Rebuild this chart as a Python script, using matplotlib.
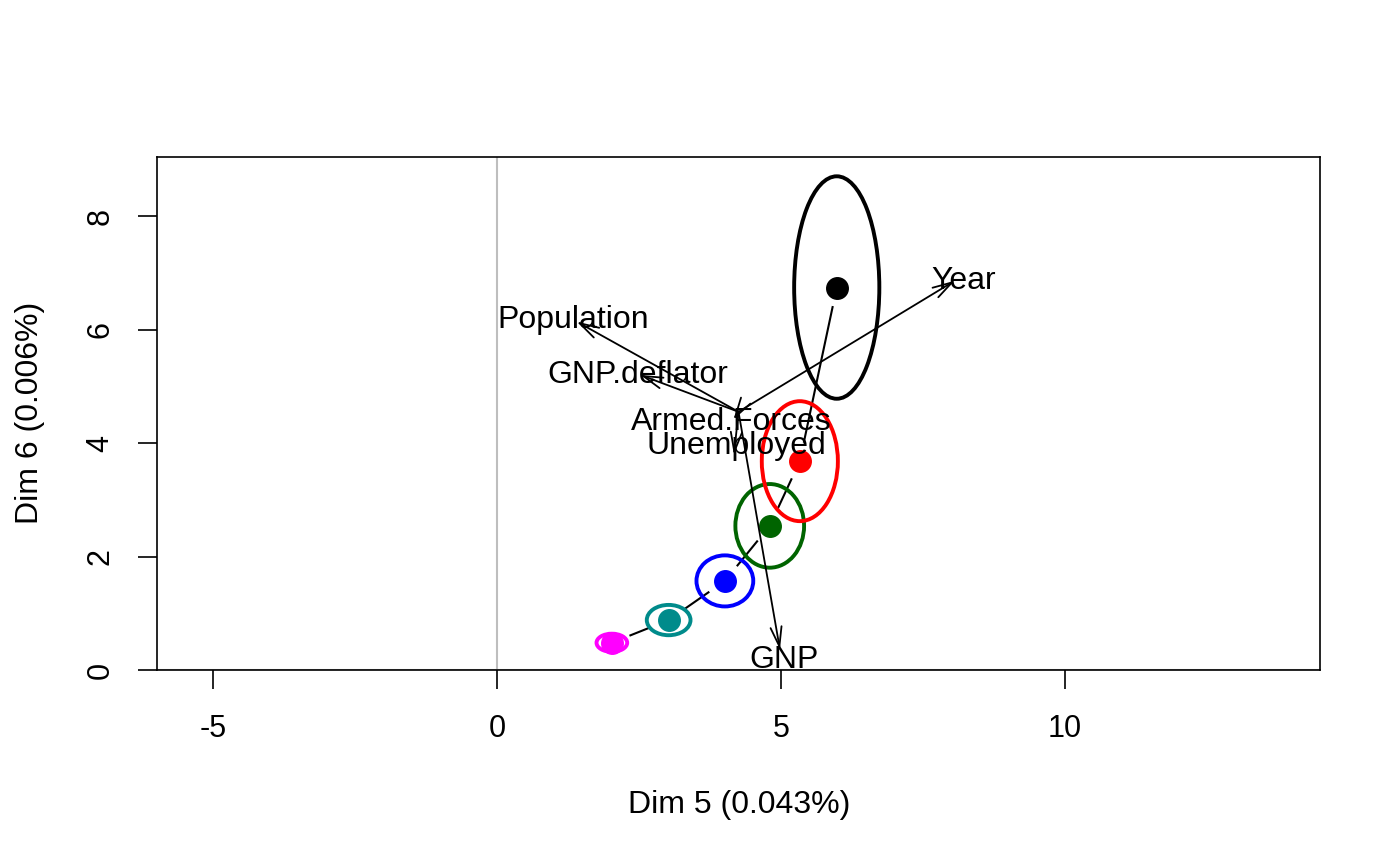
import matplotlib
matplotlib.use("Agg")
import matplotlib.pyplot as plt
from matplotlib.patches import Ellipse
import numpy as np

plt.rcParams['font.family'] = ['Liberation Sans', 'DejaVu Sans']
plt.rcParams['axes.unicode_minus'] = False

# group centers (Dim 5, Dim 6)
grp_x = [2.02, 3.02, 4.01, 4.80, 5.33, 5.98]
grp_y = [0.48, 0.88, 1.57, 2.54, 3.68, 6.74]
grp_colors = ['#FF00FF', '#008B8B', '#0000FF', '#006400', '#FF0000', '#000000']
# ellipse semi-axes
ell_ax = [0.27, 0.385, 0.50, 0.605, 0.67, 0.75]
ell_ay = [0.16, 0.267, 0.45, 0.737, 1.057, 1.96]

# variable vectors
var_names = ['Population', 'GNP.deflator', 'Armed.Forces', 'Unemployed', 'Year', 'GNP']
origin = (4.25, 4.55)
var_x = [1.40, 2.52, 4.16, 4.17, 8.06, 4.98]
var_y = [6.14, 5.20, 4.41, 3.79, 6.86, 0.36]
lab_x = [1.34, 2.47, 4.12, 4.21, 8.21, 5.05]
lab_y = [6.03, 5.05, 4.23, 3.81, 6.71, 0.03]

xlim = (-5.99, 14.49)
ylim = (0.0, 9.04)

fig = plt.figure(figsize=(14, 8.66), dpi=100)
ax = fig.add_axes([157/1400, 1-670/866, (1320-157)/1400, (670-157)/866])
ax.set_xlim(*xlim)
ax.set_ylim(*ylim)

ax.axvline(0, color='#BEBEBE', lw=1.5, zorder=1)
ax.axhline(0, color='#BEBEBE', lw=1.5, zorder=1)

# connecting lines with gaps (type = "b")
fig.canvas.draw()
T = ax.transData
gap = 20
for i in range(len(grp_x) - 1):
    p0 = T.transform((grp_x[i], grp_y[i]))
    p1 = T.transform((grp_x[i+1], grp_y[i+1]))
    d = p1 - p0
    L = np.hypot(*d)
    if L > 2 * gap:
        u = d / L
        a = T.inverted().transform(p0 + u * gap)
        b = T.inverted().transform(p1 - u * gap)
        ax.plot([a[0], b[0]], [a[1], b[1]], color='black', lw=1.5, zorder=2)

for x, y, c, a, b in zip(grp_x, grp_y, grp_colors, ell_ax, ell_ay):
    ax.add_patch(Ellipse((x, y), 2*a, 2*b, fill=False, edgecolor=c, lw=2.8, zorder=3))
    ax.plot(x, y, 'o', color=c, ms=15.5, mec=c, zorder=4)

for vx, vy, lx, ly, name in zip(var_x, var_y, lab_x, lab_y, var_names):
    ax.annotate('', xy=(vx, vy), xytext=origin,
                arrowprops=dict(arrowstyle='->,head_length=0.7,head_width=0.2',
                                lw=1.3, color='black', shrinkA=0, shrinkB=0,
                                mutation_scale=20), zorder=5)
    ax.text(lx, ly, name, ha='center', va='baseline', fontsize=23, zorder=6)

ax.set_xticks([-5, 0, 5, 10])
ax.set_yticks([0, 2, 4, 6, 8])
ax.tick_params(axis='both', length=14, width=1.2, labelsize=22, direction='out')
ax.tick_params(axis='x', pad=18)
ax.tick_params(axis='y', pad=16)
for lbl in ax.get_yticklabels():
    lbl.set_rotation(90)
    lbl.set_va('center')
for s in ax.spines.values():
    s.set_linewidth(1.2)

fig.text(739/1400, 1-805/866, 'Dim 5 (0.043%)', ha='center', va='center', fontsize=23)
fig.text(30/1400, 1-413/866, 'Dim 6 (0.006%)', ha='center', va='center', fontsize=23, rotation=90)

fig.savefig('out.png', dpi=100, facecolor='white')
